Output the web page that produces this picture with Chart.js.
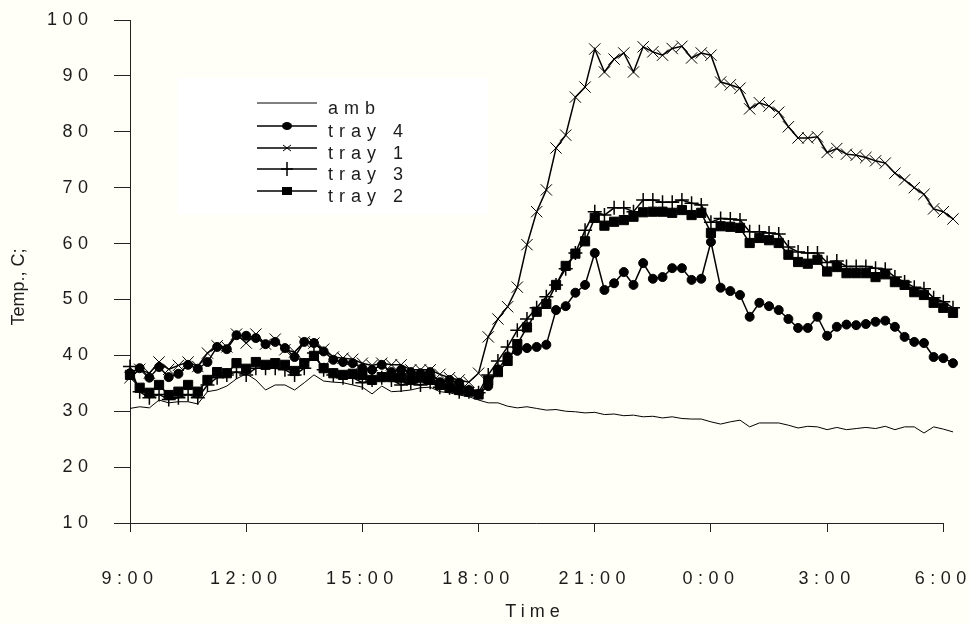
<!DOCTYPE html>
<html>
<head>
<meta charset="utf-8">
<script src="https://cdn.jsdelivr.net/npm/chart.js@4/dist/chart.umd.min.js"></script>
<style>
  html, body { margin: 0; padding: 0; background: #fffff7; }
  canvas { display: block; }
</style>
</head>
<body>
<canvas id="temps" width="969" height="624"></canvas>
<script>
// readings every 15 minutes starting 9:00
const stepHours = 0.25;
const tickLabels = ['9:00', '12:00', '15:00', '18:00', '21:00', '0:00', '3:00', '6:00'];
const seriesNames = ['amb', 'tray 4', 'tray 1', 'tray 3', 'tray 2'];

const amb = [30.5,30.8,30.6,32.0,31.5,31.7,31.7,31.3,33.5,33.8,
  34.5,35.8,36.7,35.6,33.8,34.7,34.7,33.8,35.1,36.5,
  35.4,35.2,35.1,34.7,34.3,33.1,34.5,33.5,33.6,33.8,
  34.2,34.3,33.5,33.3,32.9,32.6,32.0,31.5,31.5,30.9,
  30.6,30.8,30.5,30.2,30.3,30.0,29.9,29.7,29.8,29.4,
  29.5,29.2,29.3,29.0,29.1,28.8,29.0,28.7,28.6,28.6,
  28.1,27.7,28.1,28.4,27.2,27.9,27.9,27.9,27.5,27.0,
  27.3,27.2,26.7,27.1,26.7,26.9,27.1,26.9,27.3,26.7,
  27.2,27.2,26.1,27.2,26.8,26.3];

const tray4 = [36.8,37.7,36.0,37.9,36.1,36.7,38.3,37.6,38.8,41.5,
  41.1,43.6,43.5,43.1,42.0,42.4,41.3,39.7,42.4,42.2,
  40.7,39.2,38.8,38.6,37.7,37.4,38.3,37.0,37.4,37.0,
  36.8,37.0,35.2,35.6,35.1,33.8,33.1,34.5,37.5,39.8,
  40.8,41.3,41.5,41.9,48.1,48.8,51.2,52.6,58.3,51.7,
  52.9,54.9,52.6,56.5,53.7,54.0,55.6,55.6,53.5,53.7,
  60.3,52.1,51.5,50.8,46.9,49.4,48.8,48.1,46.5,44.9,
  44.9,46.9,43.5,45.1,45.5,45.4,45.6,46.0,46.2,45.1,
  43.3,42.4,42.2,39.7,39.5,38.6];

const tray1 = [36.0,37.5,36.8,38.8,37.5,38.2,38.8,38.0,40.4,41.7,
  41.5,43.8,42.2,43.8,42.0,42.9,41.0,40.6,42.4,42.2,
  41.1,39.7,39.5,39.3,38.6,38.2,38.6,38.3,38.3,37.4,
  37.4,37.4,36.6,36.0,35.6,35.2,36.8,43.3,46.5,48.7,
  52.2,59.8,65.7,69.6,77.1,79.4,86.2,88.0,94.8,90.7,
  93.0,94.1,90.7,95.2,94.3,93.7,94.9,95.3,93.2,94.1,
  93.7,88.9,88.4,87.8,84.1,85.2,84.6,83.5,80.9,78.9,
  78.9,79.1,76.3,77.0,76.0,75.8,75.4,74.8,74.4,72.6,
  71.4,70.0,68.8,66.2,65.7,64.4];

const tray3 = [38.0,33.5,32.4,33.0,32.1,32.4,33.0,32.4,34.7,36.0,
  36.5,37.0,36.5,37.7,37.7,37.7,37.4,36.5,37.7,40.4,
  37.4,36.5,36.0,36.0,35.1,35.6,36.0,35.6,34.7,35.1,
  34.7,35.2,34.3,34.2,33.5,33.5,33.3,36.5,39.0,41.5,
  44.5,46.5,48.5,50.5,52.6,55.5,58.3,62.4,65.7,65.1,
  66.4,66.4,65.7,67.8,67.8,67.4,67.4,67.8,67.2,66.9,
  63.8,64.5,64.4,64.2,62.1,62.1,61.9,61.7,59.4,58.5,
  58.3,58.3,56.6,56.9,55.9,55.9,55.9,55.6,55.4,54.0,
  53.1,52.2,51.9,50.3,49.6,48.5];

const tray2 = [36.5,34.2,33.3,34.7,32.9,33.5,34.7,33.5,35.6,37.0,
  36.8,38.6,37.6,38.8,38.3,38.6,38.3,37.2,38.6,39.9,
  37.7,36.8,36.5,36.7,36.5,35.6,36.1,36.1,36.0,35.6,
  36.0,35.6,34.7,34.2,33.8,33.5,33.0,35.5,37.0,39.0,
  42.0,45.0,47.8,49.2,52.6,56.0,58.2,60.4,64.6,63.2,
  63.9,64.2,64.8,65.6,65.7,65.7,65.5,66.0,65.1,65.5,
  61.9,63.1,63.0,62.8,60.1,61.0,60.6,60.1,58.0,56.7,
  56.4,57.1,55.0,55.8,54.7,54.7,54.7,54.0,54.5,53.1,
  52.6,51.3,50.8,49.4,48.5,47.6];

const FONT = "'Liberation Sans', Arial, sans-serif";
const INK = '#1c1c1c';

function pts(values) {
  return values.map((v, i) => ({ x: i * stepHours, y: v }));
}

function series(label, values, style) {
  return Object.assign({
    label: label,
    data: pts(values),
    borderColor: '#000',
    borderWidth: 1.5,
    pointBackgroundColor: '#000',
    pointBorderColor: '#000',
    pointBorderWidth: 1,
    tension: 0,
    clip: false
  }, style);
}

const datasets = [
  series(seriesNames[0], amb, { borderWidth: 1, pointRadius: 0 }),
  series(seriesNames[1], tray4, { pointStyle: 'circle', pointRadius: 4.5 }),
  series(seriesNames[2], tray1, { pointStyle: 'crossRot', pointRadius: 8 }),
  series(seriesNames[3], tray3, { pointStyle: 'cross', pointRadius: 7, pointBorderWidth: 1.5 }),
  series(seriesNames[4], tray2, { pointStyle: 'rect', pointRadius: 6.5 })
];

// little marker painter for the legend
function marker(ctx, style, x, y) {
  ctx.save();
  ctx.fillStyle = '#000';
  ctx.strokeStyle = '#000';
  ctx.lineWidth = 1;
  ctx.beginPath();
  if (style === 'circle') {
    ctx.ellipse(x, y, 5, 4, 0, 0, Math.PI * 2);
    ctx.fill();
  } else if (style === 'crossRot') {
    ctx.moveTo(x - 4, y - 3); ctx.lineTo(x + 4, y + 3);
    ctx.moveTo(x - 4, y + 3); ctx.lineTo(x + 4, y - 3);
    ctx.stroke();
  } else if (style === 'cross') {
    ctx.lineWidth = 1.5;
    ctx.moveTo(x, y - 7); ctx.lineTo(x, y + 7);
    ctx.moveTo(x - 6, y); ctx.lineTo(x + 6, y);
    ctx.stroke();
  } else if (style === 'rect') {
    ctx.fillRect(x - 5, y - 4, 10, 8);
  }
  ctx.restore();
}

const textPlugin = {
  id: 'text',
  beforeDraw: function (chart) {
    chart.ctx.letterSpacing = '5.5px';
  },
  afterDraw: function (chart) {
    let ctx = chart.ctx;
    let xs = chart.scales.x;
    ctx.save();

    // x axis line stops at the last labelled tick
    ctx.strokeStyle = '#222';
    ctx.lineWidth = 1;
    ctx.beginPath();
    ctx.moveTo(chart.chartArea.left, Math.round(chart.chartArea.bottom) + 0.5);
    ctx.lineTo(Math.round(xs.getPixelForValue((tickLabels.length - 1) * 3)) + 0.5, Math.round(chart.chartArea.bottom) + 0.5);
    ctx.stroke();

    // axis titles
    ctx.fillStyle = INK;
    ctx.font = '18px ' + FONT;
    ctx.textAlign = 'center';
    ctx.textBaseline = 'middle';
    ctx.letterSpacing = '5px';
    ctx.fillText('Time', 535, 612);

    ctx.letterSpacing = '0px';
    ctx.save();
    ctx.translate(19, 287);
    ctx.rotate(-Math.PI / 2);
    ctx.fillText('Temp., C;', 0, 0);
    ctx.restore();

    // legend box
    ctx.fillStyle = '#ffffff';
    ctx.fillRect(178, 78, 310, 136);
    let rowY = [103, 126, 148, 169, 191];
    chart.data.datasets.forEach(function (ds, i) {
      let y = rowY[i];
      ctx.strokeStyle = '#000';
      ctx.lineWidth = ds.borderWidth;
      ctx.beginPath();
      ctx.moveTo(257, y);
      ctx.lineTo(317, y);
      ctx.stroke();
      if (ds.pointRadius) marker(ctx, ds.pointStyle, 287, y);
      ctx.fillStyle = INK;
      ctx.textAlign = 'left';
      ctx.textBaseline = 'alphabetic';
      ctx.letterSpacing = '6px';
      ctx.fillText(ds.label, 328, y + 11);
    });
    ctx.restore();
  }
};

let ctx = document.getElementById('temps').getContext('2d');
let tempChart = new Chart(ctx, {
  type: 'line',
  data: { datasets: datasets },
  options: {
    responsive: false,
    animation: false,
    devicePixelRatio: 1,
    events: [],
    layout: { padding: { top: 20, right: 16, left: 0, bottom: 0 } },
    plugins: {
      legend: { display: false },
      tooltip: { enabled: false }
    },
    scales: {
      x: {
        type: 'linear',
        min: 0,
        max: (amb.length - 1) * stepHours,
        afterFit: function (scale) {
          scale.height = 101;
          scale.paddingLeft = 0;
          scale.paddingRight = 0;
        },
        border: { display: false },
        grid: { drawOnChartArea: false, drawTicks: true, tickLength: 9, color: '#222' },
        ticks: {
          stepSize: 3,
          includeBounds: false,
          autoSkip: false,
          maxRotation: 0,
          padding: 36,
          color: INK,
          font: { family: FONT, size: 18 },
          callback: function (value) { return tickLabels[Math.round(value / 3)]; }
        }
      },
      y: {
        min: 10,
        max: 100,
        afterFit: function (scale) {
          scale.width = 130;
          scale.paddingTop = 0;
          scale.paddingBottom = 0;
        },
        border: { display: true, color: '#222', width: 1 },
        grid: { drawOnChartArea: false, drawTicks: true, tickLength: 16, color: '#222' },
        ticks: {
          stepSize: 10,
          padding: 20.5,
          color: INK,
          font: { family: FONT, size: 18 }
        }
      }
    }
  },
  plugins: [textPlugin]
});
</script>
</body>
</html>
